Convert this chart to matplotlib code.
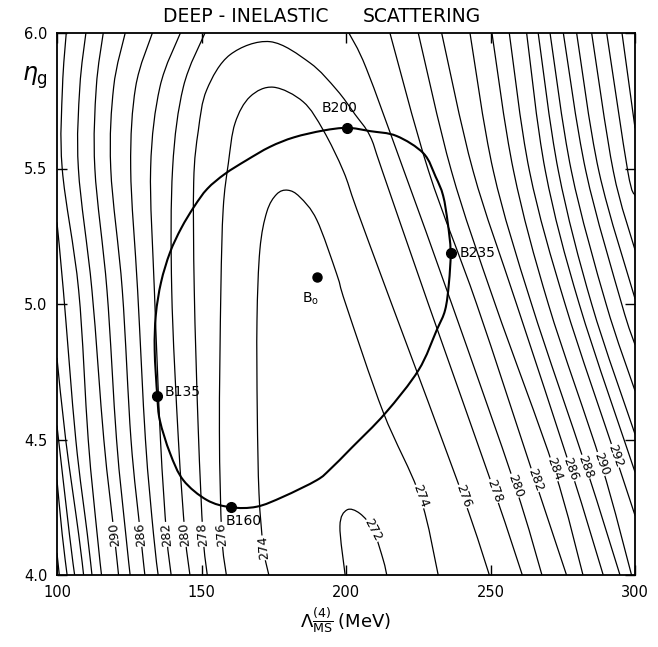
import numpy as np
import matplotlib
matplotlib.use('Agg')
import matplotlib.pyplot as plt
from matplotlib.path import Path
from matplotlib.patches import PathPatch

# chi^2 contours over (Lambda_MS, eta_g); x positions read at fixed eta_g heights
left_y = [4.0, 4.15, 4.5, 5.05, 5.5, 5.8, 6.0]
left_arms = {
    280: [146.0, 144.3, 142.0, 139.7, 140.0, 143.7, 151.2],
    282: [139.5, 137.9, 135.8, 133.7, 132.4, 135.6, 142.7],
    284: [135.0, 133.4, 130.6, 127.9, 125.5, 127.2, 133.0],
    286: [130.4, 128.9, 125.6, 122.6, 118.6, 119.6, 123.6],
    288: [125.3, 123.8, 120.6, 117.3, 113.1, 113.6, 116.0],
    290: [121.3, 119.8, 116.2, 112.1, 107.4, 107.9, 110.0],
    292: [115.4, 113.9, 110.8, 107.5, 101.8, 101.9, 103.2],
}

# arms that leave through the left edge
edge_arms = {
    294: ([112.1, 110.5, 106.5, 102.2, 100.0], [4.0, 4.15, 4.5, 5.05, 5.3]),
    296: ([109.2, 107.5, 103.0, 100.0], [4.0, 4.15, 4.5, 4.8]),
    298: ([106.1, 104.3, 100.0], [4.0, 4.15, 4.55]),
    300: ([103.5, 101.8, 100.0], [4.0, 4.15, 4.35]),
    302: ([100.8, 100.0], [4.0, 4.08]),
}

# the valley: inverted U shapes and the small 272 island
valley = {
    272: ([199.7, 197.9, 200.3, 204.8, 209.4, 212.9, 214.1],
          [4.0, 4.18, 4.24, 4.227, 4.166, 4.055, 4.0]),
    274: ([173.3, 171.4, 169.9, 169.3, 169.2, 170.2, 172.6, 176.0, 179.8, 184.0,
           189.9, 196.8, 199.9, 212.9, 225.6, 231.9],
          [4.0, 4.1, 4.3, 4.6, 4.94, 5.2, 5.34, 5.405, 5.42, 5.395,
           5.31, 5.11, 5.0, 4.6, 4.29, 4.0]),
    276: ([158.6, 157.0, 156.2, 156.7, 157.5, 159.3, 161.6, 166.8, 174.9, 185.2,
           192.2, 199.1, 203.7, 215.8, 240.5, 249.6],
          [4.0, 4.15, 4.53, 5.05, 5.35, 5.52, 5.667, 5.765, 5.80, 5.746,
           5.64, 5.49, 5.35, 5.0, 4.29, 4.0]),
    278: ([152.0, 150.5, 148.9, 147.5, 147.3, 148.9, 151.8, 159.9, 173.7, 187.5,
           196.8, 203.1, 208.3, 212.6, 228.5, 251.3, 261.0],
          [4.0, 4.15, 4.53, 5.05, 5.45, 5.64, 5.79, 5.92, 5.968, 5.89,
           5.79, 5.70, 5.62, 5.49, 5.0, 4.31, 4.0]),
}

# high-Lambda arms, (x, y) pairs from the top edge down
right_arms = {
    280: ([201.0, 207.0, 220.1, 236.6, 258.5, 267.8], [6.0, 5.87, 5.49, 5.0, 4.33, 4.0]),
    282: ([215.2, 228.6, 245.2, 265.4, 276.3], [6.0, 5.49, 5.0, 4.35, 4.0]),
    284: ([225.0, 236.5, 251.6, 272.0, 282.0], [6.0, 5.49, 5.0, 4.39, 4.0]),
    286: ([233.1, 244.0, 259.0, 277.8, 289.0], [6.0, 5.49, 5.0, 4.39, 4.0]),
    288: ([242.9, 251.0, 264.2, 283.0, 294.8], [6.0, 5.49, 5.0, 4.40, 4.0]),
    290: ([250.5, 258.0, 270.0, 288.3, 298.8], [6.0, 5.49, 5.0, 4.41, 4.0]),
    292: ([256.5, 263.5, 275.8, 293.2, 300.0], [6.0, 5.49, 5.0, 4.44, 4.22]),
    294: ([262.5, 269.0, 280.7, 300.0], [6.0, 5.49, 5.0, 4.38]),
    296: ([266.5, 273.5, 285.0, 300.0], [6.0, 5.49, 5.0, 4.52]),
    298: ([270.6, 278.0, 290.0, 300.0], [6.0, 5.49, 5.0, 4.68]),
    300: ([275.2, 283.0, 295.4, 300.0], [6.0, 5.49, 5.0, 4.85]),
    302: ([279.8, 287.5, 300.0], [6.0, 5.49, 5.02]),
    304: ([285.0, 292.5, 300.0], [6.0, 5.49, 5.2]),
    306: ([290.2, 297.5, 300.0], [6.0, 5.49, 5.4]),
    308: ([295.5, 300.0], [6.0, 5.65]),
}

# closed error contour through the B points
ring_x = [160.1, 169.1, 178.3, 189.9, 194.5, 202.0, 213.6, 225.1, 231.4, 234.3,
          235.6, 236.2, 235.2, 233.6, 231.0, 226.8, 217.5, 208.3, 200.5, 192.1,
          182.0, 173.7, 165.5, 158.1, 152.0, 147.5, 143.0, 139.1, 136.0, 134.2,
          133.8, 134.7, 135.6, 139.1, 143.7, 151.8]
ring_y = [4.25, 4.252, 4.289, 4.35, 4.39, 4.47, 4.597, 4.756, 4.904, 4.978,
          5.076, 5.193, 5.30, 5.40, 5.47, 5.556, 5.62, 5.638, 5.65, 5.64,
          5.615, 5.58, 5.53, 5.48, 5.425, 5.36, 5.28, 5.19, 5.08, 4.96,
          4.83, 4.66, 4.57, 4.45, 4.35, 4.277]

point_names = ['B135', 'B160', 'B200', 'B235']
point_x = [134.7, 160.1, 200.3, 236.2]
point_y = [4.66, 4.25, 5.65, 5.19]
best_x, best_y = 189.9, 5.10

# contour labels: level -> (x, y)
left_labels = {290: (119.8, 4.15), 286: (128.9, 4.15), 282: (137.9, 4.15),
               280: (144.3, 4.15), 278: (150.5, 4.15), 276: (157.0, 4.15),
               274: (171.4, 4.10)}
right_labels = {272: (209.4, 4.166), 274: (225.6, 4.29), 276: (240.5, 4.29),
                278: (251.3, 4.31), 280: (258.5, 4.33), 282: (265.4, 4.35),
                284: (272.0, 4.39), 286: (277.8, 4.39), 288: (283.0, 4.40),
                290: (288.3, 4.41), 292: (293.2, 4.44)}

x_ticks = [100, 150, 200, 250, 300]
y_ticks = [4.0, 4.5, 5.0, 5.5, 6.0]


def smooth(xs, ys, closed=False):
    # Catmull-Rom through the points, written as cubic Bezier segments
    p = np.column_stack([xs, ys]).astype(float)
    n = len(p)
    verts = [p[0]]
    codes = [Path.MOVETO]
    segs = n if closed else n - 1
    for i in range(segs):
        if closed:
            p0, p1, p2, p3 = p[(i - 1) % n], p[i], p[(i + 1) % n], p[(i + 2) % n]
        else:
            p0 = p[i - 1] if i > 0 else p[i]
            p1, p2 = p[i], p[i + 1]
            p3 = p[i + 2] if i + 2 < n else p[i + 1]
        verts += [p1 + (p2 - p0) / 6, p2 - (p3 - p1) / 6, p2]
        codes += [Path.CURVE4] * 3
    return Path(verts, codes)


def draw(ax, xs, ys, lw=0.9, closed=False):
    ax.add_patch(PathPatch(smooth(xs, ys, closed), fill=False, ec='black', lw=lw,
                           capstyle='round', joinstyle='round', zorder=2))


fig = plt.figure(figsize=(6.58, 6.47), dpi=100)
ax = fig.add_axes([57 / 658, 1 - 575 / 647, 578 / 658, 542 / 647])
ax.set_xlim(100, 300)
ax.set_ylim(4.0, 6.0)

for lvl, xs in left_arms.items():
    draw(ax, xs, left_y)
for lvl, (xs, ys) in edge_arms.items():
    draw(ax, xs, ys)
for lvl, (xs, ys) in valley.items():
    draw(ax, xs, ys)
for lvl, (xs, ys) in right_arms.items():
    draw(ax, xs, ys)

draw(ax, ring_x, ring_y, lw=1.5, closed=True)

ax.plot(point_x, point_y, 'o', color='black', ms=7, zorder=4)
ax.plot([best_x], [best_y], 'o', color='black', ms=6.5, zorder=4)

lab_font = dict(fontsize=10, color='black', zorder=6)
ax.text(197.6, 5.723, 'B200', ha='center', va='center', **lab_font)
ax.text(239.3, 5.19, 'B235', ha='left', va='center', **lab_font)
ax.text(137.2, 4.675, 'B135', ha='left', va='center', **lab_font)
ax.text(164.7, 4.199, 'B160', ha='center', va='center', **lab_font)
ax.text(187.6, 5.02, r'B$_\mathrm{o}$', ha='center', va='center', **lab_font)

box = dict(boxstyle='square,pad=0.05', fc='white', ec='none')
for lvl, (x, y) in left_labels.items():
    ax.text(x, y, str(lvl), rotation=95, rotation_mode='anchor', ha='center',
            va='center', fontsize=9, bbox=box, zorder=5)
for lvl, (x, y) in right_labels.items():
    rot = -62 if lvl == 272 else -70
    ax.text(x, y, str(lvl), rotation=rot, rotation_mode='anchor', ha='center',
            va='center', fontsize=9, bbox=box, zorder=5)

ax.set_xticks(x_ticks)
ax.set_yticks(y_ticks)
ax.set_xticklabels([str(v) for v in x_ticks])
ax.set_yticklabels(['%.1f' % v for v in y_ticks])
ax.tick_params(direction='in', top=True, right=True, length=7, width=1,
               labelsize=10.5, pad=7)
for s in ax.spines.values():
    s.set_linewidth(1.3)

fig.text(163 / 658, 1 - 16 / 647, 'DEEP - INELASTIC', ha='left', va='center', fontsize=13.5)
fig.text(363 / 658, 1 - 16 / 647, 'SCATTERING', ha='left', va='center', fontsize=13.5)
fig.text(35 / 658, 1 - 78 / 647, r'$\eta_\mathrm{g}$', ha='center', va='center', fontsize=17)
fig.text(345 / 658, 1 - 620 / 647, r'$\Lambda^{(4)}_{\overline{\mathrm{MS}}}$ (MeV)',
         ha='center', va='center', fontsize=13)

fig.savefig('out.png', dpi=100, facecolor='white')
